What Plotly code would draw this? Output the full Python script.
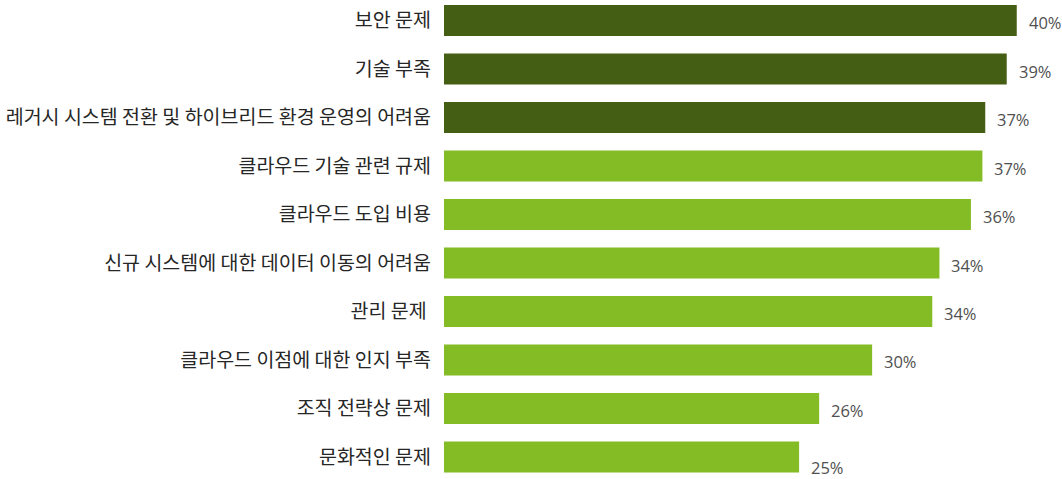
import plotly.graph_objects as go

categories = [
    "보안 문제",
    "기술 부족",
    "레거시 시스템 전환 및 하이브리드 환경 운영의 어려움",
    "클라우드 기술 관련 규제",
    "클라우드 도입 비용",
    "신규 시스템에 대한 데이터 이동의 어려움",
    "관리 문제 ",
    "클라우드 이점에 대한 인지 부족",
    "조직 전략상 문제",
    "문화적인 문제",
]
values = [40.0, 39.3, 37.8, 37.6, 36.8, 34.6, 34.1, 29.9, 26.2, 24.8]
value_labels = ["40%", "39%", "37%", "37%", "36%", "34%", "34%", "30%", "26%", "25%"]
highlight = [True, True, True, False, False, False, False, False, False, False]

DARK = "#445E13"
LIGHT = "#84BC26"
colors = [DARK if h else LIGHT for h in highlight]

fig = go.Figure()
fig.add_trace(go.Bar(
    y=categories,
    x=values,
    orientation="h",
    marker=dict(color=colors, line=dict(width=0)),
    hoverinfo="skip",
))

n = len(categories)
for i, (cat, v, lab) in enumerate(zip(categories, values, value_labels)):
    # the bottom label in the original sits slightly lower than its bar
    ys = -11 if i == n - 1 else -2
    fig.add_annotation(
        x=v, y=cat, text=lab, showarrow=False,
        xanchor="left", yanchor="middle", xshift=10, yshift=ys,
        font=dict(family="Open Sans, Noto Sans CJK KR", size=16.5, color="#505050"),
    )

fig.update_layout(
    width=1062, height=479,
    margin=dict(l=444, r=0, t=0, b=0),
    paper_bgcolor="white", plot_bgcolor="white",
    bargap=0.36,
    showlegend=False,
    font=dict(family="Noto Sans CJK KR", size=19.5, color="#262626"),
)
fig.update_xaxes(range=[0, 43.16], visible=False, showgrid=False, zeroline=False)
fig.update_yaxes(
    type="category",
    range=[9.454, -0.423],
    showgrid=False, zeroline=False, showline=False,
    ticks="", ticklabelstandoff=12,
    tickfont=dict(family="Noto Sans CJK KR", size=19.5, color="#262626"),
)

fig.write_html("out.html")
